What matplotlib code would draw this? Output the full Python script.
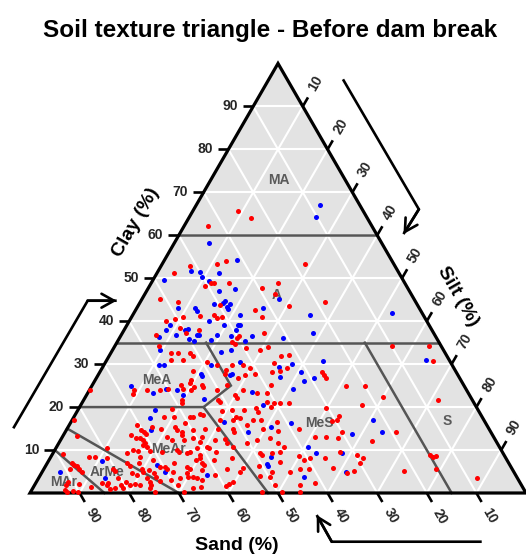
import numpy as np
import matplotlib
matplotlib.use("Agg")
import matplotlib.pyplot as plt
from matplotlib.patches import Polygon

plt.rcParams['font.family'] = ['Liberation Sans', 'DejaVu Sans']

# ---------------- data: sand and clay (%), silt = 100 - sand - clay ----------------
red_sand = [
    25.2, 23.5, 33.0, 18.0, 33.5, 35.7, 41.3, 45.4, 39.1, 38.5,
    35.4, 40.7, 25.5, 29.4, 27.4, 51.2, 47.9, 39.8, 26.0, 33.2,
    42.2, 41.9, 40.8, 45.1, 48.8, 32.7, 52.5, 50.5, 50.6, 47.0,
    49.8, 34.3, 56.2, 39.7, 40.3, 41.6, 18.3,
    41.3, 39.7, 36.9, 35.0, 49.0, 47.3, 46.2, 44.3, 42.1, 41.0,
    33.4, 31.7, 35.6, 35.4, 33.6, 37.2, 40.7, 27.1, 27.0, 27.0,
    46.8, 44.7, 45.1, 38.9, 42.6, 47.3, 47.3, 23.8, 51.2, 51.1,
    41.7, 40.3, 39.2, 44.5, 37.4, 49.6, 51.8, 47.3, 44.5, 41.3,
    30.4, 56.0, 53.2, 50.5, 49.6, 49.0, 46.5, 44.9, 42.0, 38.4,
    29.9, 57.2, 54.5, 51.5, 51.7, 48.4, 45.5, 42.7, 36.0, 31.6,
    58.7, 56.5, 54.4, 54.5, 50.5, 48.1, 45.2, 44.3, 43.3, 36.5,
    32.8, 29.7, 59.0, 58.7, 53.8, 57.6, 49.0, 48.9, 46.7, 44.8,
    41.4, 39.5, 61.7, 61.9, 59.1, 55.3, 54.1, 48.8, 50.7, 46.0,
    42.7, 40.8, 36.0, 33.7, 60.6, 57.5, 55.2, 49.7, 45.1, 64.7,
    59.7, 58.8, 57.7, 51.6, 49.7, 44.7, 41.4, 53.2, 49.0, 45.5,
    56.8, 55.4, 53.8, 51.4, 51.2, 56.1, 53.7, 52.9, 54.9, 52.8,
    52.8, 64.5, 61.8, 57.1, 55.6, 54.6, 50.2, 47.7, 43.0, 40.7,
    64.2, 62.2, 58.8, 56.4, 70.2, 69.9, 67.8, 66.1, 63.1, 63.1,
    60.6, 59.8, 71.4, 71.0, 71.0, 65.9, 65.2, 62.7, 62.9, 60.7,
    59.7, 71.1, 71.0, 68.6, 65.3, 65.1, 62.9, 61.3, 73.6, 71.3,
    69.7, 69.5, 67.6, 65.3, 64.8, 62.6, 74.7, 72.6, 74.5, 70.1,
    68.1, 66.1, 66.2, 65.2, 63.9, 69.2, 66.6, 68.9,
    82.6, 83.9, 61.6, 59.0, 58.2, 70.5, 72.8, 72.2, 69.7, 79.2,
    75.8, 74.2, 73.3, 71.6, 62.3, 61.2, 63.8, 84.0, 82.7, 80.5,
    88.8, 88.1, 87.8, 87.4, 87.3, 89.0, 87.1, 80.4, 80.3, 80.5,
    76.9, 76.7, 77.2, 76.3, 74.5, 74.6, 79.3, 80.8, 80.6, 78.9,
    77.8, 76.9, 74.8, 74.6, 70.7, 68.6, 72.4, 64.7, 62.7, 61.6,
    83.1, 83.5, 82.4, 92.6, 92.5, 91.1, 89.1, 91.1, 75.3, 74.6,
    91.7, 86.9, 83.6, 90.1, 75.9, 84.4, 73.4, 72.8, 67.0, 67.7,
    60.0, 58.6, 57.0, 54.3,
    3.4, 6.9, 9.9, 2.5, 20.1, 17.6, 22.8, 28.7, 29.5, 19.2,
    24.9, 28.8, 29.9, 32.1, 22.1, 15.0, 14.5, 13.8, 15.3, 8.1,
    30.7, 33.8, 41.0,
]
red_clay = [
    65.6, 64.0, 62.2, 53.2, 54.0, 53.3, 52.8, 51.2, 48.8, 48.8,
    49.0, 48.1, 48.8, 47.8, 46.3, 45.1, 44.4, 43.7, 43.5, 42.7,
    41.4, 40.7, 41.0, 41.2, 40.9, 40.9, 40.0, 40.5, 38.4, 37.9,
    37.3, 37.2, 36.8, 36.5, 36.0, 35.2, 44.4,
    34.8, 33.7, 33.4, 34.0, 30.5, 29.8, 28.6, 29.8, 29.8, 29.2,
    31.9, 32.1, 30.3, 28.4, 29.0, 28.2, 27.8, 28.2, 27.4, 26.7,
    27.8, 26.7, 24.0, 25.1, 23.2, 22.8, 22.0, 25.0, 21.6, 21.2,
    21.2, 20.9, 20.9, 19.7, 20.9, 19.3, 19.1, 19.3, 18.9, 20.1,
    19.7, 18.1, 17.0, 17.0, 17.7, 17.4, 17.0, 17.0, 16.6, 14.8,
    14.3, 15.0, 15.0, 15.0, 14.3, 15.8, 15.0, 14.5, 13.0, 12.7,
    13.1, 12.3, 12.6, 11.6, 11.6, 12.3, 12.7, 11.6, 10.8, 8.1,
    9.6, 8.8, 10.8, 10.4, 10.6, 9.6, 9.2, 8.8, 9.2, 9.6,
    8.6, 8.1, 8.1, 6.9, 7.7, 8.1, 5.9, 5.0, 6.3, 7.3,
    5.7, 5.7, 5.9, 4.7, 4.2, 5.5, 5.0, 3.8, 5.0, 1.5,
    1.6, 2.1, 2.6, 4.0, 1.9, 1.9, 2.3, 0.2, 0.2, 0.2,
    34.2, 32.5, 32.7, 32.5, 31.9, 30.9, 30.9, 28.4, 25.5, 25.1,
    24.6, 24.0, 24.0, 24.2, 24.0, 24.6, 24.0, 25.1, 27.4, 23.2,
    17.7, 17.7, 17.7, 18.5, 14.7, 14.3, 15.4, 15.0, 15.4, 14.7,
    16.2, 14.7, 12.7, 12.3, 11.6, 13.1, 12.3, 13.5, 12.3, 12.7,
    11.9, 10.8, 9.8, 9.6, 10.0, 9.6, 9.6, 8.8, 8.4, 7.7,
    6.1, 5.7, 6.9, 6.1, 5.7, 7.7, 5.0, 3.8, 2.6, 3.0,
    3.4, 4.6, 3.8, 3.8, 3.0, 1.9, 1.1, 0.3,
    17.0, 13.3, 19.5, 20.9, 17.7, 15.8, 13.5, 12.7, 13.7, 10.5,
    9.2, 10.0, 9.8, 11.2, 14.3, 10.4, 9.2, 8.4, 8.4, 8.1,
    9.0, 6.9, 6.5, 6.3, 5.6, 5.7, 5.0, 5.7, 5.1, 3.4,
    6.9, 6.3, 4.6, 4.2, 6.9, 5.7, 2.6, 1.9, 1.2, 1.9,
    2.0, 1.9, 3.4, 1.9, 6.1, 5.0, 2.8, 3.4, 5.3, 6.5,
    2.3, 0.9, 1.1, 0.7, 0.2, 0.5, 2.0, 2.5, 1.1, 0.3,
    1.9, 1.5, 1.9, 0.3, 24.0, 2.3, 5.3, 4.6, 24.0, 23.0,
    24.3, 21.6, 25.1, 26.3,
    30.7, 21.6, 34.3, 34.3, 24.9, 22.4, 20.6, 18.0, 17.1, 14.1,
    12.2, 8.1, 7.1, 5.1, 5.1, 8.8, 8.4, 8.7, 5.7, 3.6,
    16.8, 13.0, 7.7,
]

blue_sand = [
    34.9, 8.0, 10.2, 31.1, 41.7, 40.0, 36.2, 40.2, 48.2, 39.3,
    38.4, 34.9, 27.1, 38.3, 38.9, 37.6, 40.9, 38.7, 38.6, 48.6,
    45.2, 45.1, 31.6, 37.0, 43.9, 52.2, 41.4, 38.4, 38.1, 53.6,
    49.9, 49.0, 39.5, 55.8, 52.2, 47.9, 47.5, 43.9, 41.2, 36.9,
    31.0, 50.0, 49.2, 45.8, 39.0, 22.8, 24.3, 6.0, 45.0, 42.8,
    48.6, 42.5, 35.0, 32.2, 36.0, 25.5, 31.3, 31.8, 29.4, 51.6,
    51.7, 46.0, 45.4, 43.5, 34.9, 54.0, 42.8, 52.5, 39.3, 28.3,
    49.0, 38.5, 37.7, 32.4, 47.3, 48.9, 48.9, 42.9, 62.1, 57.2,
    59.1, 58.0, 63.6, 60.4, 58.3, 57.8, 43.8, 67.2, 68.2, 71.2,
    65.1, 81.8, 83.1, 70.4, 91.6, 67.2, 4.8, 22.2, 21.9, 33.8,
]
blue_clay = [
    58.1, 67.0, 64.3, 54.3, 51.6, 51.4, 51.2, 50.2, 49.7, 49.3,
    47.1, 47.6, 45.2, 44.7, 44.3, 44.1, 43.9, 43.2, 42.8, 43.0,
    43.0, 42.3, 43.0, 41.4, 40.0, 39.1, 39.0, 39.2, 39.0, 37.9,
    37.9, 38.2, 37.9, 36.3, 36.7, 36.8, 36.8, 36.7, 36.5, 36.6,
    36.1, 35.9, 35.4, 35.6, 35.4, 41.4, 37.2, 41.9, 32.9, 33.4,
    29.8, 30.5, 29.4, 30.0, 27.0, 30.8, 28.2, 26.1, 26.7, 27.8,
    27.2, 27.4, 27.8, 23.6, 24.1, 21.8, 20.5, 16.6, 16.2, 13.7,
    14.1, 10.8, 9.2, 9.2, 8.3, 6.7, 6.3, 3.8, 4.3, 33.3,
    29.9, 29.9, 23.3, 24.3, 24.0, 22.8, 15.3, 17.4, 14.7, 6.5,
    19.3, 7.4, 3.6, 4.8, 4.8, 24.9, 30.9, 17.1, 14.1, 4.8,
]

ticks = [10, 20, 30, 40, 50, 60, 70, 80, 90]

# class boundaries as (clay, silt, sand) vertex chains
boundaries = [
    [(60, 0, 40), (60, 40, 0)],
    [(35, 0, 65), (35, 65, 0)],
    [(20, 0, 80), (20, 25, 55), (0, 48, 52)],
    [(20, 25, 55), (25, 28, 47), (35, 18, 47)],
    [(35, 50, 15), (0, 85, 15)],
    [(15, 0, 85), (0, 30, 70)],
    [(10, 0, 90), (0, 15, 85)],
]

class_names = ["MA", "A", "MeA", "MeAr", "MeS", "S", "ArMe", "MAr"]
class_anchor = [(72.8, 13.8, 13.4), (46.0, 26.7, 27.3), (26.4, 12.3, 61.3),
                (10.2, 22.8, 67.0), (16.4, 50.1, 33.5), (16.8, 75.7, 7.5),
                (5.0, 13.0, 82.0), (2.5, 5.5, 92.0)]

H = np.sqrt(3) / 2


def tern(clay, silt, sand):
    clay = np.asarray(clay, float)
    silt = np.asarray(silt, float)
    sand = np.asarray(sand, float)
    tot = clay + silt + sand
    c, t = clay / tot, silt / tot
    return t + c / 2, c * H


fig = plt.figure(figsize=(5.26, 5.54), dpi=100)
ax = fig.add_axes([0, 0, 1, 1])
ax.set_xlim(-30 / 496, 1.0)
ax.set_ylim(-61 / 496, 493 / 496)
ax.axis('off')

# panel
corners = np.array([[0, 0], [1, 0], [0.5, H]])
ax.add_patch(Polygon(corners, closed=True, facecolor='#E3E3E3', edgecolor='none', zorder=1))

# white grid
for k in ticks:
    f = k
    for a, b in [((f, 0, 100 - f), (f, 100 - f, 0)),
                 ((0, 100 - f, f), (100 - f, 0, f)),
                 ((0, f, 100 - f), (100 - f, f, 0))]:
        x0, y0 = tern(*a)
        x1, y1 = tern(*b)
        ax.plot([x0, x1], [y0, y1], color='white', lw=1.5, zorder=2, solid_capstyle='butt')

# class boundaries
for chain in boundaries:
    arr = np.array(chain, float)
    xs, ys = tern(arr[:, 0], arr[:, 1], arr[:, 2])
    ax.plot(xs, ys, color='#555555', lw=1.8, zorder=3, solid_joinstyle='miter')

for name, (c, t, s) in zip(class_names, class_anchor):
    x, y = tern(c, t, s)
    ax.text(x, y, name, ha='center', va='center', fontsize=10,
            fontweight='bold', color='#5A5A5A', zorder=3.5)

# border
ax.add_patch(Polygon(corners, closed=True, facecolor='none', edgecolor='black',
                     lw=2.3, joinstyle='miter', zorder=4))

# ticks and labels
tl = 0.021
lab_kw = dict(fontsize=10, fontweight='bold', color='#262626')
dsand = np.array([0.5, -H])
dsilt = np.array([0.5, H])
for k in ticks:
    # clay (left edge)
    x, y = tern(k, 0, 100 - k)
    ax.plot([x - tl, x], [y, y], color='black', lw=1.9, zorder=4, solid_capstyle='butt')
    ax.text(x - 0.031, y, str(k), ha='right', va='center', **lab_kw)
    # sand (base)
    x, y = tern(0, 100 - k, k)
    p1 = np.array([x, y]) + dsand * tl
    ax.plot([x, p1[0]], [y, p1[1]], color='black', lw=1.9, zorder=4, solid_capstyle='butt')
    q = np.array([x, y]) + dsand * 0.054
    ax.text(q[0], q[1], str(k), ha='center', va='center', rotation=-60,
            rotation_mode='anchor', **lab_kw)
    # silt (right edge)
    x, y = tern(100 - k, k, 0)
    p1 = np.array([x, y]) + dsilt * tl
    ax.plot([x, p1[0]], [y, p1[1]], color='black', lw=1.9, zorder=4, solid_capstyle='butt')
    q = np.array([x, y]) + dsilt * 0.053
    ax.text(q[0], q[1], str(k), ha='center', va='center', rotation=60,
            rotation_mode='anchor', **lab_kw)

# samples
rx, ry = tern(red_clay, 100 - np.array(red_sand) - np.array(red_clay), red_sand)
bx, by = tern(blue_clay, 100 - np.array(blue_sand) - np.array(blue_clay), blue_sand)
ax.scatter(bx, by, s=13, color='#0000FF', linewidths=0, zorder=5)
ax.scatter(rx, ry, s=13, color='#FF0000', linewidths=0, zorder=5)

# direction arrows
arrow_paths = [
    [(-0.0337, 0.1304), (0.1163, 0.3877), (0.1748, 0.3877)],
    [(0.631, 0.834), (0.784, 0.572), (0.753, 0.522)],
    [(0.9107, -0.0982), (0.6083, -0.0982), (0.578, -0.0444)],
]
for path in arrow_paths:
    (x0, y0), (x1, y1), (x2, y2) = path
    ax.plot([x0, x1, x2], [y0, y1, y2], color='black', lw=1.9, zorder=6,
            solid_joinstyle='miter', solid_capstyle='butt')
    ax.annotate('', xy=(x2, y2), xytext=(x1, y1),
                arrowprops=dict(arrowstyle='->,head_length=0.45,head_width=0.25',
                                lw=1.9, color='black', shrinkA=0, shrinkB=0,
                                mutation_scale=20), zorder=6)

# axis titles
ttl = dict(fontsize=14, fontweight='bold', color='black')
ax.text(0.2137, 0.5464, 'Clay (%)', ha='center', va='center', rotation=60,
        rotation_mode='anchor', **ttl)
ax.text(0.863, 0.397, 'Silt (%)', ha='center', va='center', rotation=-60,
        rotation_mode='anchor', **ttl)
ax.text(0.417, -0.105, 'Sand (%)', ha='center', va='center', **ttl)

fig.text(270 / 526, 1 - 37 / 554, 'Soil texture triangle - Before dam break',
         ha='center', va='baseline', fontsize=17.5, fontweight='bold')

fig.savefig('out.png', dpi=100)
